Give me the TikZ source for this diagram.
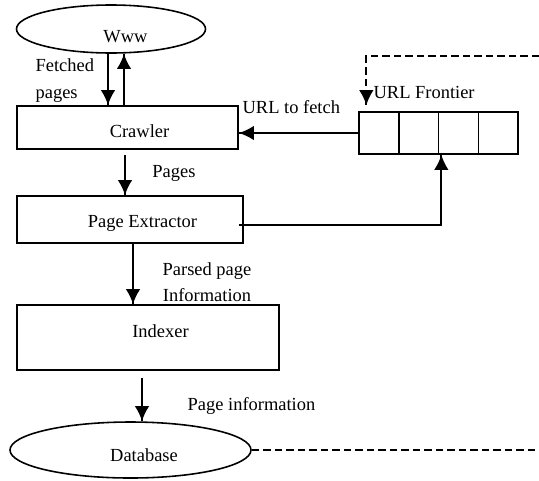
\documentclass[tikz,border=0pt]{standalone}
\usepackage{fontspec}
\setmainfont{Liberation Serif}
\usetikzlibrary{calc,arrows.meta,shapes.geometric,
                 decorations.markings}
\tikzset{->/.style = {decoration={markings, mark=at position 1 with {\arrow{Latex[length=3mm,width=2.9mm]}}}, postaction={decorate}}}
\tikzset{blk/.style = {draw, rectangle, inner sep=0pt},
         oval/.style = {draw, ellipse, inner sep=0pt},
         cell/.style = {draw, rectangle, inner sep=0pt, minimum width=0.795cm, minimum height=0.84cm},
         dashline/.style = {dash pattern=on 0.15cm off 0.08cm}}

\begin{document}
\begin{tikzpicture}[line width=0.9pt, font=\fontsize{10.5}{15}\selectfont]
\useasboundingbox (0,0) rectangle (10.78,9.6);
\node[oval, minimum width=3.78cm, minimum height=0.96cm, label={[shift={(0.29,-0.15)}]center:Www}] (www) at (2.22,9.02) {};
\node[blk, minimum width=4.42cm, minimum height=0.86cm, label={[shift={(0.24,-0.08)}]center:Crawler}] (crawler) at (2.55,7.05) {};
\node[blk, minimum width=4.52cm, minimum height=0.94cm, label={[shift={(0.25,-0.08)}]center:Page Extractor}] (extractor) at (2.6,5.21) {};
\node[blk, minimum width=5.24cm, minimum height=1.3cm, label={[shift={(0.25,0.12)}]center:Indexer}] (indexer) at (2.96,2.85) {};
\node[oval, minimum width=4.82cm, minimum height=1.12cm, label={[shift={(0.27,-0.1)}]center:Database}] (db) at (2.61,0.6) {};
\foreach \i in {1,...,4}
  \node[cell] (f\i) at ({7.58+0.795*(\i-1)},6.94) {};
\node[anchor=west] (frontier) at (7.34,7.76) {URL Frontier};
\node[anchor=west, align=left] (fetched) at (0.58,7.99) {Fetched\\pages};
\node (pages) at (3.48,6.14) {Pages};
\node[anchor=west] (tofetch) at (4.72,7.46) {URL to fetch};
\node[align=center] (parsed) at (4.14,3.96) {Parsed page\\Information};
\node (pageinfo) at (5.03,1.48) {Page information};
\coordinate (wdown) at ($(www.south)+(-0.06,0)$);
\coordinate (wup) at ($(www.south)+(0.26,0)$);
\draw [->, line width=1.1pt] (wdown) -- (wdown |- crawler.north);
\draw [->, line width=1.1pt] (wup |- crawler.north) -- (wup);
\coordinate (c1) at ($(crawler.south)+(-0.05,-0.1)$);
\draw [->, line width=1.1pt] (c1) -- (c1 |- extractor.north);
\coordinate (e2) at ($(extractor.south)+(0.06,0)$);
\draw [->, line width=1.1pt] (e2) -- (e2 |- indexer.north);
\coordinate (i1) at ($(indexer.south)+(-0.12,-0.14)$);
\draw [->, line width=1.1pt] (i1) -- (i1 |- db.north);
\draw [->, line width=1.1pt] (f1.west) -- (f1.west -| crawler.east);
\coordinate (e1) at ($(extractor.east)+(-0.1,-0.11)$);
\coordinate (f3in) at ($(f3.south west)+(0.07,0)$);
\draw [->, line width=1.1pt] (e1) -| (f3in);
\coordinate (topright) at (10.78,8.48);
\coordinate (fin) at ($(f1.north west)+(0.16,0.12)$);
\draw [->, dashline, line width=1.1pt] (topright) -| (fin);
\coordinate (botright) at (10.78,0.58);
\draw [dashline] (db.east) -- (db.east -| botright);
\end{tikzpicture}
\end{document}
